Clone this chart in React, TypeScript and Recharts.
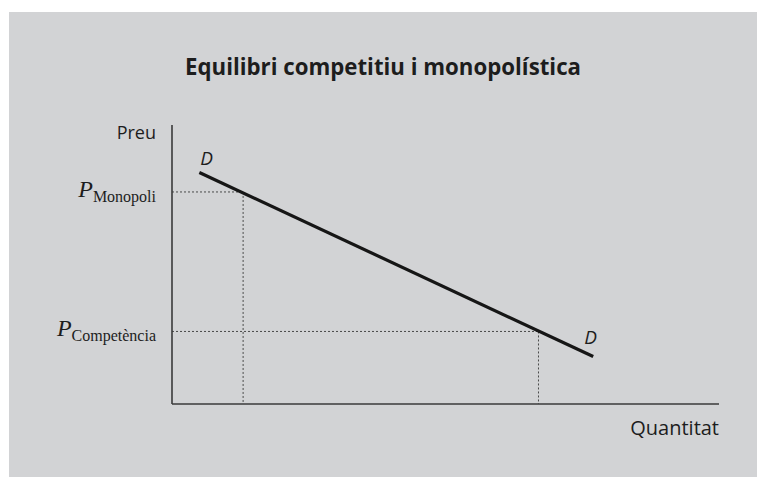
import React from 'react'
import { LineChart, Line, XAxis, YAxis, ReferenceLine, ReferenceDot } from 'recharts'

// demand curve end points (quantity, price)
const demand = [
  { q: 5, p: 83 },
  { q: 77, p: 17 },
]

// equilibrium points on the demand curve
const monopoly = { q: 13, p: 76 }
const competition = { q: 67, p: 26 }

const priceTicks = [competition.p, monopoly.p]
const priceLabels: Record<number, string> = {
  [monopoly.p]: 'Monopoli',
  [competition.p]: 'Competència',
}

const title = 'Equilibri competitiu i monopolística'
const yName = 'Preu'
const xName = 'Quantitat'
const curveName = 'D'

const W = 757
const H = 477
const sans = '"Open Sans", "Noto Sans", sans-serif'
const serif = '"Liberation Serif", "DejaVu Serif", serif'
const ink = '#1d1d1d'
const axisColor = '#3a3a3a'

const PriceTick = (props: any) => {
  const { x, y, payload } = props
  return (
    <text x={x} y={y + 5} textAnchor="end" fill={ink} fontFamily={serif}>
      <tspan fontStyle="italic" fontSize={24}>P</tspan>
      <tspan fontSize={16} dy={5}>{priceLabels[payload.value]}</tspan>
    </text>
  )
}

const CurveLabel = (props: any) => {
  const { x, y, index } = props
  const dx = index === 0 ? 1 : -9
  const dy = index === 0 ? -7 : -13
  return (
    <text x={x + dx} y={y + dy} fill={ink} fontFamily={sans} fontStyle="italic" fontSize={19}>
      {curveName}
    </text>
  )
}

const dotted = { stroke: '#4a4a4a', strokeWidth: 1, strokeDasharray: '2 2' }

export default function App() {
  return (
    <div style={{ position: 'absolute', left: 0, top: 0, width: W, height: H, background: '#fff' }}>
      <div style={{ position: 'absolute', left: 9, top: 12, width: W - 9, height: H - 12, background: '#d2d3d5' }} />
      <div style={{ position: 'absolute', left: 0, top: 0 }}>
        <LineChart width={W} height={H} data={demand} margin={{ top: 125, right: 38, bottom: 0, left: 72 }}>
          <text
            x={383}
            y={75}
            textAnchor="middle"
            fill={ink}
            fontFamily={sans}
            fontWeight={700}
            fontSize={23}
            textLength={396}
            lengthAdjust="spacingAndGlyphs"
          >
            {title}
          </text>
          <XAxis
            dataKey="q"
            type="number"
            domain={[0, 100]}
            height={73}
            tick={false}
            tickLine={false}
            axisLine={{ stroke: axisColor, strokeWidth: 1.6 }}
          />
          <YAxis
            type="number"
            domain={[0, 100]}
            width={100}
            ticks={priceTicks}
            tick={<PriceTick />}
            tickLine={false}
            tickSize={0}
            tickMargin={16}
            interval={0}
            axisLine={{ stroke: axisColor, strokeWidth: 1.6 }}
          />
          <ReferenceLine segment={[{ x: 0, y: monopoly.p }, { x: monopoly.q, y: monopoly.p }]} {...dotted} />
          <ReferenceLine segment={[{ x: monopoly.q, y: monopoly.p }, { x: monopoly.q, y: 0 }]} {...dotted} />
          <ReferenceLine segment={[{ x: 0, y: competition.p }, { x: competition.q, y: competition.p }]} {...dotted} />
          <ReferenceLine segment={[{ x: competition.q, y: competition.p }, { x: competition.q, y: 0 }]} {...dotted} />
          <ReferenceDot
            x={0}
            y={100}
            r={0}
            stroke="none"
            label={(p: any) => (
              <text x={p.viewBox.x - 16} y={p.viewBox.y + 14} textAnchor="end" fill={ink} fontFamily={sans} fontSize={18}>
                {yName}
              </text>
            )}
          />
          <ReferenceDot
            x={100}
            y={0}
            r={0}
            stroke="none"
            label={(p: any) => (
              <text x={p.viewBox.x} y={p.viewBox.y + 31} textAnchor="end" fill={ink} fontFamily={sans} fontSize={20}>
                {xName}
              </text>
            )}
          />
          <Line
            dataKey="p"
            stroke="#161616"
            strokeWidth={3.2}
            dot={false}
            label={<CurveLabel />}
            isAnimationActive={false}
          />
        </LineChart>
      </div>
    </div>
  )
}
